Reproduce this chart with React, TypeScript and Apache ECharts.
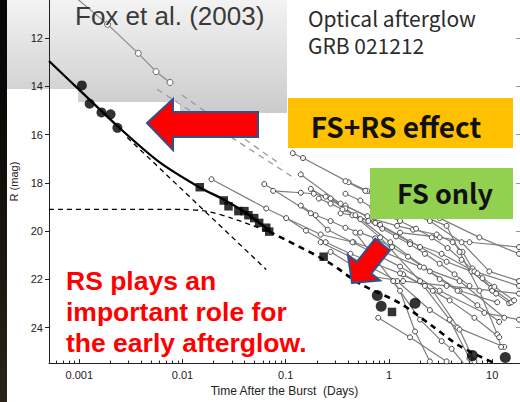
import React, { useEffect, useRef } from "react";
import * as echarts from "echarts";

// ---------- axis ranges / ticks ----------
const xMinDays = 0.000509;
const xMaxDays = 18.6;
const yMinMag = 10.42;
const yMaxMag = 25.47;
const xTickDays = [0.001, 0.01, 0.1, 1, 10];
const xTickLabels = ["0.001", "0.01", "0.1", "1", "10"];
const yTicks = [12, 14, 16, 18, 20, 22, 24];
const minorDecades = [0.0001, 0.001, 0.01, 0.1, 1, 10];
const minorMultipliers = [2, 3, 4, 5, 6, 7, 8, 9];

// ---------- GRB 021212 data ----------
const earlyDays = [0.00106, 0.00126, 0.00164, 0.00201, 0.00234];
const earlyMag = [13.96, 14.72, 15.08, 15.16, 15.72];
const squareDays = [0.0147, 0.0251, 0.0279, 0.0348, 0.0398, 0.0435, 0.0495, 0.0553, 0.0647, 0.0692, 0.233, 1.07];
const squareMag = [18.18, 18.73, 18.97, 19.17, 19.17, 19.34, 19.46, 19.66, 19.86, 20.02, 21.06, 23.35];
const lateDays = [0.771, 0.841, 1.79, 6.44, 13.4];
const lateMag = [22.67, 23.11, 22.99, 25.16, 25.24];

// model curves
const totalDays = [0.000509, 0.00108, 0.00239, 0.00593, 0.0144, 0.025, 0.0416, 0.0692];
const totalMag = [12.95, 14.28, 15.68, 17.13, 18.17, 18.69, 19.26, 19.98];
const rsDays = [0.00292, 0.0647];
const rsMag = [16.12, 21.59];
const fsDays = [0.000509, 0.00986, 0.0171, 0.0299, 0.0692];
const fsMag = [19.1, 19.1, 19.18, 19.46, 20.02];
const fsLateDays = [0.0692, 0.255, 0.528, 1.28, 2.66, 4.83, 10.0];
const fsLateMag = [20.02, 21.27, 22.19, 22.99, 23.95, 24.76, 25.43];

// ---------- other afterglows (grey) ----------
const greyTopDays = [0.000867, 0.00188, 0.00373, 0.00555, 0.00757];
const greyTopMag = [10.22, 11.43, 12.63, 13.39, 13.84];
const greyDash1Days = [0.00568, 0.126];
const greyDash1Mag = [14.12, 17.85];
const greyDash2Days = [0.00986, 0.0902];
const greyDash2Mag = [14.36, 17.25];

const greyLines: { days: number[]; mag: number[] }[] = [
  { days: [0.117, 0.147, 0.406, 0.618, 1.28, 3.1, 7.52, 18.2], mag: [16.77, 16.97, 17.97, 18.33, 18.78, 19.46, 20.26, 20.94] },
  {
    days: [0.0755, 0.14, 0.187, 0.244, 0.379, 0.659, 1.2, 1.71, 2.9, 4.14, 5.16, 6.44, 8.04, 10.9, 14.6],
    mag: [18.33, 18.41, 18.45, 18.57, 18.94, 19.46, 19.78, 19.94, 20.14, 20.46, 20.86, 21.55, 21.95, 22.59, 22.99],
  },
  { days: [0.0191, 0.0647, 0.218, 0.453, 0.879, 2.0, 4.83, 13.1], mag: [17.85, 19.06, 20.14, 20.46, 20.86, 21.47, 22.07, 23.59] },
  { days: [0.14, 0.34, 0.618, 0.822, 2.0, 3.62, 6.3, 9.8, 15.3], mag: [17.65, 18.86, 19.38, 19.74, 20.66, 21.27, 21.67, 22.35, 22.95] },
  { days: [0.0619, 0.175, 0.255, 0.443, 1.28, 3.1, 8.4, 18.2], mag: [18.05, 19.26, 19.94, 20.46, 21.47, 22.47, 23.39, 23.67] },
  { days: [0.272, 0.528, 1.03, 2.49, 4.83, 11.2], mag: [18.65, 19.5, 20.46, 21.67, 22.47, 22.95] },
  { days: [0.34, 0.443, 0.736, 1.6, 3.24, 6.73, 18.2], mag: [19.26, 19.34, 19.66, 20.46, 20.94, 21.67, 22.27] },
  { days: [0.272, 0.659, 1.37, 3.62, 10.0, 18.2], mag: [20.86, 21.87, 22.07, 22.27, 22.47, 22.59] },
  { days: [0.218, 0.528, 1.2, 2.49, 4.62, 13.1], mag: [20.46, 21.27, 22.07, 23.27, 24.0, 24.8] },
  { days: [0.787, 1.6, 3.62], mag: [23.59, 24.4, 25.4] },
  { days: [1.1, 2.0, 3.24, 4.05, 5.39], mag: [22.07, 23.67, 24.56, 24.88, 25.52] },
  { days: [0.59, 1.15, 2.49, 5.05, 9.38, 18.2], mag: [18.33, 19.06, 19.58, 20.46, 21.67, 22.07] },
  { days: [1.28, 3.1, 6.03, 18.2], mag: [20.06, 20.26, 20.46, 20.66] },
  { days: [0.379, 0.822, 3.62, 4.83, 7.52, 11.2, 12.2], mag: [17.93, 18.65, 19.78, 20.86, 22.47, 24.28, 24.8] },
  { days: [0.473, 1.28, 1.79, 2.49], mag: [20.06, 22.47, 24.16, 25.4] },
  { days: [1.37, 2.66, 4.83, 6.73], mag: [21.79, 22.47, 24.08, 25.4] },
  { days: [0.175, 0.379, 0.822, 2.0, 3.87, 6.03], mag: [18.25, 19.06, 20.26, 22.07, 23.67, 25.28] },
  {
    days: [0.209, 0.272, 0.355, 0.473, 0.631, 0.861, 1.17, 1.6, 2.23, 3.1, 4.32, 6.03],
    mag: [18.65, 18.86, 19.1, 19.34, 19.58, 19.9, 20.22, 20.54, 20.94, 21.35, 21.79, 22.27],
  },
  {
    days: [0.14, 0.195, 0.272, 0.379, 0.528, 0.736, 1.07, 1.53, 2.18, 3.1, 4.62, 7.19, 11.7],
    mag: [18.94, 19.34, 19.58, 19.86, 20.06, 20.3, 20.66, 21.06, 21.51, 21.99, 22.47, 23.07, 23.76],
  },
  {
    days: [0.379, 0.528, 0.69, 0.94, 1.28, 1.83, 2.6, 3.7, 5.05, 7.19, 10.5, 16.3],
    mag: [18.45, 18.73, 19.02, 19.34, 19.58, 19.9, 20.26, 20.7, 21.19, 21.75, 22.31, 22.87],
  },
  {
    days: [0.101, 0.157, 0.244, 0.424, 0.736, 1.28, 2.23, 3.87, 6.73, 11.7],
    mag: [19.46, 19.98, 20.46, 20.94, 21.35, 21.75, 22.27, 22.87, 23.59, 24.4],
  },
];

const L = Math.log10;
const pairs = (d: number[], m: number[]) => d.map((v, i) => [L(v), m[i]]);

export default function App() {
  const ref = useRef<HTMLDivElement>(null);
  useEffect(() => {
    if (!ref.current) return;
    const chart = echarts.init(ref.current, undefined, { renderer: "svg" });
    const majorLogs = xTickDays.map(L);
    const minorLogs: number[] = [];
    minorDecades.forEach((d) => minorMultipliers.forEach((k) => minorLogs.push(L(d * k))));
    const xMin = L(xMinDays);
    const xMax = L(xMaxDays);
    const axisFont = "'Liberation Sans', Arial, sans-serif";
    const jp = "'Noto Sans CJK JP', 'Noto Sans', sans-serif";

    const greySeries = greyLines.map((g) => ({
      type: "line",
      data: pairs(g.days, g.mag),
      symbol: "circle",
      symbolSize: 5,
      showSymbol: true,
      lineStyle: { color: "#7d7d7d", width: 1.2 },
      itemStyle: { color: "#ffffff", borderColor: "#444", borderWidth: 1 },
      z: 2,
    }));

    const option: any = {
      animation: false,
      backgroundColor: "#ffffff",
      grid: { left: 46, top: 0, width: 475, height: 375 },
      xAxis: [
        {
          type: "value",
          min: xMin,
          max: xMax,
          position: "bottom",
          name: "Time After the Burst  (Days)",
          nameLocation: "middle",
          nameGap: 14,
          nameTextStyle: { fontFamily: axisFont, fontSize: 12, color: "#222" },
          axisLine: { show: true, onZero: false, lineStyle: { color: "#222", width: 1 } },
          axisTick: { show: true, inside: true, length: 4, customValues: majorLogs, lineStyle: { color: "#222" } },
          axisLabel: {
            show: true,
            customValues: majorLogs,
            margin: 6,
            fontFamily: axisFont,
            fontSize: 11,
            color: "#222",
            formatter: (v: number) => {
              const i = majorLogs.findIndex((m) => Math.abs(m - v) < 1e-6);
              return i >= 0 ? xTickLabels[i] : "";
            },
          },
          splitLine: { show: false },
        },
        {
          type: "value",
          min: xMin,
          max: xMax,
          position: "bottom",
          axisLine: { show: false, onZero: false },
          axisTick: { show: true, inside: true, length: 2.5, customValues: minorLogs, lineStyle: { color: "#222" } },
          axisLabel: { show: false },
          splitLine: { show: false },
        },
      ],
      yAxis: [
        {
          type: "value",
          inverse: true,
          min: yMinMag,
          max: yMaxMag,
          position: "left",
          name: "R (mag)",
          nameLocation: "middle",
          nameGap: 30,
          nameRotate: 90,
          nameTextStyle: { fontFamily: axisFont, fontSize: 11, color: "#222" },
          axisLine: { show: true, onZero: false, lineStyle: { color: "#222", width: 1 } },
          axisTick: { show: true, inside: false, length: 4, customValues: yTicks, lineStyle: { color: "#222" } },
          axisLabel: { customValues: yTicks, margin: 6, fontFamily: axisFont, fontSize: 11, color: "#222" },
          splitLine: { show: false },
        },
        {
          type: "value",
          inverse: true,
          min: yMinMag,
          max: yMaxMag,
          position: "right",
          axisLine: { show: true, onZero: false, lineStyle: { color: "#999" } },
          axisTick: { show: true, inside: true, length: 4, customValues: yTicks, lineStyle: { color: "#999" } },
          axisLabel: { show: false },
          splitLine: { show: false },
        },
      ],
      series: [
        {
          type: "line",
          data: pairs(greyTopDays, greyTopMag),
          symbol: "circle",
          symbolSize: 6,
          lineStyle: { color: "#8a8a8a", width: 1.2 },
          itemStyle: { color: "#ffffff", borderColor: "#666", borderWidth: 1 },
        },
        {
          type: "line",
          data: pairs(greyDash1Days, greyDash1Mag),
          showSymbol: false,
          lineStyle: { color: "#999", width: 1.3, type: [6, 5] },
        },
        {
          type: "line",
          data: pairs(greyDash2Days, greyDash2Mag),
          showSymbol: false,
          lineStyle: { color: "#999", width: 1.3, type: [6, 5] },
        },
        ...greySeries,
        {
          type: "line",
          data: pairs(totalDays, totalMag),
          smooth: 0.3,
          showSymbol: false,
          lineStyle: { color: "#000", width: 2.3 },
          z: 5,
        },
        {
          type: "line",
          data: pairs(rsDays, rsMag),
          showSymbol: false,
          lineStyle: { color: "#000", width: 1.3, type: [5, 4] },
          z: 5,
        },
        {
          type: "line",
          data: pairs(fsDays, fsMag),
          smooth: 0.3,
          showSymbol: false,
          lineStyle: { color: "#000", width: 1.3, type: [5, 4] },
          z: 5,
        },
        {
          type: "line",
          data: pairs(fsLateDays, fsLateMag),
          smooth: 0.3,
          showSymbol: false,
          lineStyle: { color: "#000", width: 2.6, type: [6, 5] },
          z: 5,
        },
        {
          type: "scatter",
          data: pairs(earlyDays, earlyMag),
          symbol: "circle",
          symbolSize: 10,
          itemStyle: { color: "#000" },
          z: 6,
        },
        {
          type: "scatter",
          data: pairs(squareDays, squareMag),
          symbol: "rect",
          symbolSize: 8.5,
          itemStyle: { color: "#000" },
          z: 6,
        },
        {
          type: "scatter",
          data: pairs(lateDays, lateMag),
          symbol: "circle",
          symbolSize: 11,
          itemStyle: { color: "#000" },
          z: 6,
        },
      ],
      graphic: [
        {
          type: "rect",
          z: -10,
          shape: { x: 0, y: 0, width: 7, height: 402 },
          style: {
            fill: new echarts.graphic.LinearGradient(0, 0, 0, 1, [
              { offset: 0, color: "#050505" },
              { offset: 0.3, color: "#0d0b08" },
              { offset: 1, color: "#2b2416" },
            ]),
          },
        },
        {
          type: "polygon",
          z: -10,
          shape: {
            points: [
              [7, 0], [287, 0], [287, 113], [180, 113], [180, 102], [78, 102], [78, 89], [7, 89],
            ],
          },
          style: {
            fill: new echarts.graphic.LinearGradient(0, 0, 0, 1, [
              { offset: 0, color: "#f3f3f3" },
              { offset: 1, color: "#cbcbcb" },
            ]),
          },
        },
        {
          type: "text",
          z: 100,
          style: {
            text: "Fox et al. (2003)",
            x: 75,
            y: 16,
            font: `normal 26px 'Liberation Sans', Arial, sans-serif`,
            fill: "#3a3a3a",
            verticalAlign: "middle",
          },
        },
        {
          type: "text",
          z: 100,
          style: {
            text: "Optical afterglow\nGRB 021212",
            x: 308,
            y: 4,
            font: `normal 21px ${jp}`,
            lineHeight: 27.6,
            fill: "#2b2b2b",
            verticalAlign: "top",
          },
        },
        {
          type: "rect",
          z: 100,
          shape: { x: 288, y: 98, width: 225, height: 50 },
          style: { fill: "#FFC000" },
        },
        {
          type: "text",
          z: 101,
          style: { text: "FS+RS effect", x: 396, y: 126, font: `bold 28px ${jp}`, fill: "#111", align: "center", verticalAlign: "middle" },
        },
        {
          type: "rect",
          z: 100,
          shape: { x: 370, y: 168, width: 143, height: 51 },
          style: { fill: "#92D050" },
        },
        {
          type: "text",
          z: 101,
          style: { text: "FS only", x: 445, y: 192, font: `bold 27px ${jp}`, fill: "#111", align: "center", verticalAlign: "middle" },
        },
        {
          type: "polygon",
          z: 100,
          shape: {
            points: [[147, 123], [173, 99], [173, 112], [258, 112], [258, 137], [173, 137], [173, 150]],
          },
          style: { fill: "#FF0000", stroke: "#2F528F", lineWidth: 2 },
        },
        {
          type: "polygon",
          z: 100,
          shape: {
            points: [
              [352, 283], [380.1, 280.5], [371.3, 273.6], [389.8, 250.3], [375.2, 238.7], [356.7, 262.0], [347.9, 255.1],
            ],
          },
          style: { fill: "#FF0000", stroke: "#2F528F", lineWidth: 2 },
        },
        {
          type: "text",
          z: 100,
          style: {
            text: "RS plays an\nimportant role for\nthe early afterglow.",
            x: 66,
            y: 265,
            font: `bold 26.5px 'Liberation Sans', Arial, sans-serif`,
            lineHeight: 31,
            fill: "#FF0000",
            verticalAlign: "top",
          },
        },
      ],
    };
    chart.setOption(option);
    return () => chart.dispose();
  }, []);
  return (
    <div
      ref={ref}
      style={{ position: "fixed", left: 0, top: 0, width: 520, height: 402, background: "#fff" }}
    />
  );
}
